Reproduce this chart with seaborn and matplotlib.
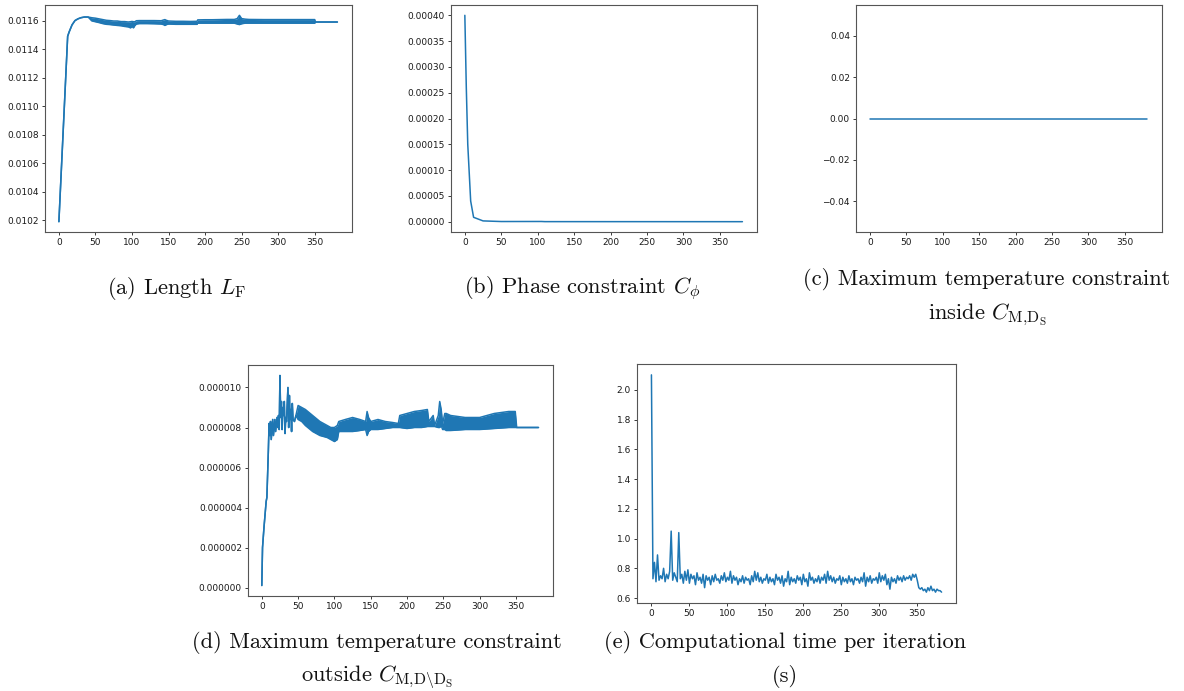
import numpy as np
import seaborn as sns
import matplotlib.pyplot as plt
from matplotlib.ticker import MultipleLocator, FormatStrFormatter

# (a) length L_F : upper / lower edge of the oscillating band
a_iter = [0, 12, 14, 18, 22, 26, 30, 35, 40, 45, 50, 55, 60, 65, 70, 75, 80, 85, 90, 95,
          98, 100, 102, 104, 106, 110, 120, 130, 140, 143, 145, 147, 150, 160, 170, 180, 189, 190, 200, 210,
          220, 230, 240, 244, 247, 250, 255, 260, 280, 300, 320, 340, 350, 351, 381]
a_hi = [0.01019, 0.01149, 0.01152, 0.01157, 0.01160, 0.011612, 0.01162, 0.011625, 0.011625, 0.01162,
        0.011617, 0.011612, 0.011607, 0.011602, 0.0116, 0.011597, 0.011597, 0.011593, 0.011593, 0.01159,
        0.011592, 0.011594, 0.011592, 0.011592, 0.011599, 0.0116, 0.0116, 0.0116, 0.011599, 0.011604,
        0.011607, 0.011602, 0.011597, 0.011595, 0.011595, 0.011594, 0.011595, 0.011605, 0.011606, 0.011606,
        0.011607, 0.011608, 0.011608, 0.011614, 0.011637, 0.011614, 0.01161, 0.011608, 0.011607, 0.011607,
        0.011607, 0.011607, 0.011607, 0.01159, 0.01159]
a_lo = [0.01019, 0.01149, 0.01152, 0.01157, 0.01160, 0.011612, 0.01162, 0.011625, 0.011625, 0.011598,
        0.011592, 0.011586, 0.011579, 0.011574, 0.011572, 0.011569, 0.011566, 0.011564, 0.011559, 0.011556,
        0.011549, 0.011559, 0.011549, 0.011566, 0.011576, 0.011579, 0.011579, 0.011578, 0.011576, 0.011572,
        0.011566, 0.011572, 0.011576, 0.011574, 0.011574, 0.011574, 0.011574, 0.011582, 0.011582, 0.011582,
        0.011582, 0.011582, 0.011582, 0.011576, 0.011572, 0.011578, 0.011582, 0.011582, 0.011582, 0.011582,
        0.011582, 0.011582, 0.011582, 0.01159, 0.01159]

# (b) phase constraint
b_iter = [0, 2, 4, 8, 12, 25, 50, 105, 110, 381]
b_val = [0.0004, 0.00026, 0.00015, 0.00004, 0.0000085, 0.0000015, 0.0000003, 0.0000004, 0.0000001, 0.0]

# (c) max temperature inside
c_iter = [0, 381]
c_val = [0.0, 0.0]

# (d) max temperature outside, in units of 1e-6
d_iter = [0, 1, 3, 6, 7, 9, 10, 11, 12, 13, 15, 16, 18, 19, 21, 22, 23, 24, 25, 26,
          27, 28, 29, 30, 31, 32, 33, 34, 36, 37, 38, 39, 40, 41, 42, 43, 45, 47, 50, 55,
          60, 70, 80, 90, 95, 100, 104, 106, 115, 125, 135, 143, 145, 147, 150, 160, 170, 180, 188, 190,
          200, 210, 220, 228, 230, 236, 238, 243, 245, 247, 249, 252, 254, 260, 280, 300, 320, 340, 349, 351,
          381]
d_hi = [0.1, 2.0, 3.0, 4.3, 4.5, 6.8, 8.2, 7.6, 8.3, 7.4, 8.4, 7.6, 8.4, 7.8, 8.5, 8.0, 8.6, 7.9, 10.6, 8.5,
        9.3, 7.9, 9.0, 8.6, 9.3, 7.7, 8.5, 8.3, 10.0, 8.0, 9.6, 8.4, 8.9, 7.8, 9.2, 8.4, 8.3, 8.6, 9.1, 9.0,
        8.9, 8.6, 8.3, 8.1, 8.0, 8.0, 8.1, 8.3, 8.4, 8.5, 8.4, 8.3, 8.8, 8.5, 8.3, 8.4, 8.3, 8.25, 8.2, 8.6,
        8.7, 8.8, 8.85, 8.9, 8.3, 8.6, 8.1, 8.6, 9.3, 8.9, 8.2, 8.7, 8.7, 8.6, 8.5, 8.5, 8.7, 8.8, 8.8, 8.0,
        8.0]
d_lo = [0.1, 2.0, 3.0, 4.3, 4.5, 6.8, 8.2, 7.6, 8.3, 7.4, 8.4, 7.6, 8.4, 7.8, 8.5, 8.0, 8.6, 7.9, 10.6, 8.5,
        9.3, 7.9, 9.0, 8.6, 9.3, 7.7, 8.5, 8.3, 10.0, 8.0, 9.6, 8.4, 8.9, 7.8, 9.2, 8.4, 8.3, 8.6, 8.4, 8.3,
        8.1, 7.8, 7.6, 7.5, 7.4, 7.3, 7.4, 7.8, 7.8, 7.8, 7.85, 7.9, 7.6, 7.8, 7.9, 7.9, 7.95, 8.0, 8.0, 8.0,
        7.95, 8.0, 8.0, 8.05, 8.05, 8.05, 8.05, 8.0, 8.0, 8.1, 7.9, 7.9, 7.85, 7.85, 7.9, 7.9, 7.95, 8.0, 8.0, 8.0,
        8.0]

# (e) computational time per iteration (every 2nd iteration)
e_iter = list(range(0, 383, 2))
e_val = [2.10, 0.73, 0.84, 0.71, 0.89, 0.72, 0.75, 0.73, 0.80, 0.71,
         0.76, 0.73, 0.78, 1.05, 0.72, 0.77, 0.74, 0.71, 1.04, 0.73,
         0.76, 0.70, 0.78, 0.72, 0.79, 0.70, 0.76, 0.73, 0.75, 0.69,
         0.77, 0.72, 0.74, 0.70, 0.76, 0.67, 0.75, 0.72, 0.74, 0.69,
         0.75, 0.71, 0.76, 0.72, 0.73, 0.70, 0.75, 0.72, 0.77, 0.71,
         0.74, 0.72, 0.78, 0.70, 0.75, 0.72, 0.74, 0.69, 0.73, 0.71,
         0.75, 0.70, 0.74, 0.72, 0.73, 0.69, 0.75, 0.71, 0.78, 0.72,
         0.77, 0.71, 0.74, 0.70, 0.73, 0.72, 0.76, 0.70, 0.74, 0.71,
         0.73, 0.69, 0.76, 0.72, 0.74, 0.70, 0.75, 0.68, 0.73, 0.71,
         0.78, 0.69, 0.74, 0.71, 0.73, 0.70, 0.75, 0.72, 0.74, 0.69,
         0.76, 0.71, 0.73, 0.68, 0.77, 0.72, 0.74, 0.70, 0.73, 0.71,
         0.75, 0.70, 0.74, 0.72, 0.76, 0.70, 0.78, 0.72, 0.75, 0.71,
         0.74, 0.70, 0.73, 0.72, 0.75, 0.69, 0.74, 0.71, 0.73, 0.70,
         0.75, 0.71, 0.73, 0.69, 0.74, 0.72, 0.73, 0.70, 0.74, 0.71,
         0.77, 0.68, 0.74, 0.71, 0.75, 0.70, 0.73, 0.72, 0.74, 0.70,
         0.77, 0.71, 0.75, 0.72, 0.76, 0.69, 0.73, 0.66, 0.74, 0.71,
         0.73, 0.70, 0.75, 0.72, 0.74, 0.71, 0.75, 0.72, 0.74, 0.73,
         0.75, 0.72, 0.76, 0.74, 0.76, 0.72, 0.67, 0.66, 0.67, 0.65,
         0.66, 0.64, 0.67, 0.65, 0.68, 0.65, 0.66, 0.64, 0.66, 0.65,
         0.65, 0.64]

x_ticks = [0, 50, 100, 150, 200, 250, 300, 350]

captions = {
    'a': [r'(a) Length $L_{\mathrm{F}}$'],
    'b': [r'(b) Phase constraint $C_{\phi}$'],
    'c': ['(c) Maximum temperature constraint', r'inside $C_{\mathrm{M}{,}\mathrm{D}_{\mathrm{S}}}$'],
    'd': ['(d) Maximum temperature constraint', r'outside $C_{\mathrm{M}{,}\mathrm{D}\backslash\mathrm{D}_{\mathrm{S}}}$'],
    'e': ['(e) Computational time per iteration', '(s)'],
}

sns.set_style('ticks')
plt.rcParams['font.family'] = ['DejaVu Sans']
plt.rcParams['mathtext.fontset'] = 'cm'
plt.rcParams['axes.unicode_minus'] = True

W, H = 1184, 691
blue = '#1f77b4'
lw = 1.1

fig = plt.figure(figsize=(W / 100, H / 100), dpi=100)


def box(l, t, r, b):
    return [l / W, 1 - b / H, (r - l) / W, (b - t) / H]


def style(ax):
    ax.tick_params(labelsize=6.5, length=2.4, width=0.6, pad=2, colors='#1a1a1a')
    for s in ax.spines.values():
        s.set_linewidth(0.8)
        s.set_color('#555555')
    ax.set_xticks(x_ticks)
    ax.set_xlabel('')
    ax.set_ylabel('')


ax_a = fig.add_axes(box(45, 5, 352, 232))
ax_b = fig.add_axes(box(451, 5, 757, 232))
ax_c = fig.add_axes(box(856, 5, 1162, 232))
ax_d = fig.add_axes(box(248, 365, 553, 596))
ax_e = fig.add_axes(box(637, 364, 956, 603))

# (a)
sns.lineplot(x=a_iter, y=a_hi, ax=ax_a, color=blue, linewidth=lw, estimator=None)
sns.lineplot(x=a_iter, y=a_lo, ax=ax_a, color=blue, linewidth=lw, estimator=None)
ax_a.fill_between(a_iter, a_lo, a_hi, color=blue, linewidth=0)
ax_a.yaxis.set_major_locator(MultipleLocator(0.0002))
ax_a.yaxis.set_major_formatter(FormatStrFormatter('%.4f'))

# (b)
sns.lineplot(x=b_iter, y=b_val, ax=ax_b, color=blue, linewidth=lw, estimator=None)
ax_b.yaxis.set_major_locator(MultipleLocator(0.00005))
ax_b.yaxis.set_major_formatter(FormatStrFormatter('%.5f'))

# (c)
sns.lineplot(x=c_iter, y=c_val, ax=ax_c, color=blue, linewidth=lw, estimator=None)
ax_c.set_ylim(-0.055, 0.055)

# (d)
d_hi_v = np.array(d_hi) * 1e-6
d_lo_v = np.array(d_lo) * 1e-6
sns.lineplot(x=d_iter, y=d_hi_v, ax=ax_d, color=blue, linewidth=lw, estimator=None)
sns.lineplot(x=d_iter, y=d_lo_v, ax=ax_d, color=blue, linewidth=lw, estimator=None)
ax_d.fill_between(d_iter, d_lo_v, d_hi_v, color=blue, linewidth=0)
ax_d.yaxis.set_major_locator(MultipleLocator(0.000002))
ax_d.yaxis.set_major_formatter(FormatStrFormatter('%.6f'))

# (e)
sns.lineplot(x=e_iter, y=e_val, ax=ax_e, color=blue, linewidth=lw, estimator=None)
ax_e.yaxis.set_major_locator(MultipleLocator(0.2))

for ax in [ax_a, ax_b, ax_c, ax_d, ax_e]:
    style(ax)
    ax.set_xlim(-19, 401)

# captions (centre x, first baseline y)
cap_pos = {'a': (177, 294), 'b': (582, 294), 'c': (987, 285), 'd': (377, 648), 'e': (785, 648)}
for key, lines in captions.items():
    cx, cy = cap_pos[key]
    for i, line in enumerate(lines):
        fig.text(cx / W, 1 - (cy + i * 34) / H, line, family='cmr10', fontsize=16.2,
                 ha='center', va='baseline', color='#111111')

fig.savefig('out.png', dpi=100)
